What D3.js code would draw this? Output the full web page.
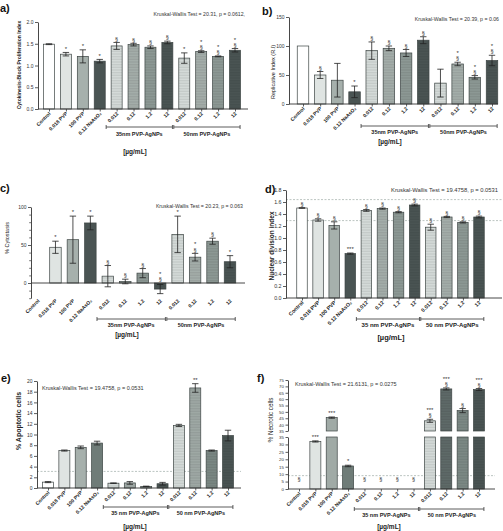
<!DOCTYPE html>
<html><head><meta charset="utf-8">
<script src="https://cdn.jsdelivr.net/npm/d3@7"></script>
<style>body{margin:0;background:#fff}svg{display:block;font-family:"Liberation Sans",Arial,sans-serif}</style>
</head><body><svg id="c" width="503" height="531"></svg>
<script>
// ---------- DATA ----------
const categories = ["Control","0.018 PVP","100 PVP","0.12 NaAsO\u2082","0.012","0.12","1.2","12","0.012","0.12","1.2","12"];
const groupsNoSpace = ["35nm PVP-AgNPs","50nm PVP-AgNPs"];
const groupsSpace = ["35 nm PVP-AgNPs","50 nm PVP-AgNPs"];
const unitLabel = "[\u00b5g/mL]";

// a) CBPI
const cbpiMean = [1.49,1.26,1.21,1.10,1.45,1.48,1.42,1.53,1.17,1.32,1.21,1.35];
const cbpiErr  = [0.01,0.04,0.15,0.04,0.08,0.03,0.03,0.03,0.12,0.02,0.01,0.04];
const cbpiMarks = [[],["*"],["*"],["*"],["§"],["§"],["§"],["§"],["*"],["§","*"],["§","*"],["§","*"]];
const cbpiTicks = [0,0.5,1,1.5,2];

// b) Replicative index
const riMean = [100,50,41,21,92,96,88,110,36,69,46,75];
const riErr  = [0,6,29,10,15,4,6,6,24,3,3,9];
const riMarks = [[],["§"],[],["*"],["§"],["§"],["§"],["§"],[],["§","*"],["§","*"],["§","*"]];
const riTicks = [0,50,100,150];

// c) % Cytostasis
const cytoMean = [0,47,57,79,9,2,13,-8,64,34,55,28];
const cytoErr  = [0,8,31,9,14,3,6,6,24,5,4,8];
const cytoMarks = [[],["*"],["*"],["*"],["§"],["§"],["§"],["§","*"],["*"],["§","*"],["§"],["*"]];
const cytoTicks = [0,50,100];
const cytoMinor = [-20,-10,10,20,30,40,60,70,80,90];

// d) Nuclear division index
const ndiMean = [1.50,1.30,1.21,0.74,1.46,1.49,1.43,1.55,1.18,1.35,1.26,1.35];
const ndiErr  = [0.005,0.02,0.06,0.01,0.015,0.01,0.01,0.015,0.05,0.01,0.01,0.015];
const ndiMarks = [["§"],["§"],["§"],["***"],["§"],["§"],["§"],["§"],["§"],["§"],["§"],["§"]];
const ndiTicks = [0,0.2,0.4,0.6,0.8,1.0,1.2,1.4,1.6,1.8];
const ndiRefLines = [1.64,1.29];

// e) % Apoptotic cells
const apoMean = [1.1,7.0,7.6,8.4,0.9,0.95,0.3,0.8,11.7,18.7,7.0,9.8];
const apoErr  = [0.1,0.1,0.25,0.35,0.05,0.25,0.05,0.25,0.2,0.8,0.1,1.0];
const apoMarks = [[],[],[],[],[],[],[],[],[],["**"],[],[]];
const apoTicks = [0,2,4,6,8,10,12,14,16,18,20];
const apoRefLines = [3.1];

// f) % Necrotic cells
const necMean = [0,32,45.5,15.5,0,0,0,0,43,68,51,67.5];
const necErr  = [0,0.4,0.5,0.5,0,0,0,0,1.2,0.8,1.6,0.8];
const necMarks = [["§"],["***"],["***"],["*"],["§"],["§"],["§"],["§"],["§","***"],["§","***"],["§"],["§","***"]];
const necTicksLow = [0,5,10,15,20,25,30,35];
const necTicksHigh = [35,40,45,50,55,60,65,70,75];
const necRefLines = [9];

// ---------- STYLE ----------
const baseColors = ["#ffffff","#dfe4e2","#a6b0ac","#4a5453","#d6dcda","#a5afab","#8e9a96","#4b5554","#d6dcda","#a5afab","#8e9a96","#4b5554"];
const colorsE = ["#ffffff","#dfe4e2","#a6b0ac","#6f7c78","#d6dcda","#a5afab","#8e9a96","#4b5554","#d6dcda","#a0aaa6","#7b8884","#4b5554"];
const colorsF = ["#ffffff","#dfe4e2","#a0aaa6","#6f7c78","#d6dcda","#a5afab","#8e9a96","#4b5554","#d6dcda","#5f6b69","#7d8a86","#4b5554"];
const striped = [false,false,false,false,true,true,true,true,true,true,true,true];

const svg = d3.select("#c");
const defs = svg.append("defs");
const patCache = {};
function fillFor(color, stripe){
  if(!stripe) return color;
  const id = "p"+color.slice(1);
  if(!patCache[id]){
    const p = defs.append("pattern").attr("id",id).attr("patternUnits","userSpaceOnUse").attr("width",4).attr("height",1.6);
    p.append("rect").attr("width",4).attr("height",1.6).attr("fill",color);
    p.append("rect").attr("width",4).attr("height",0.6).attr("fill",d3.color(color).darker(0.35));
    patCache[id]=true;
  }
  return "url(#"+id+")";
}

function drawPanel(p){
  const g = svg.append("g");
  const n = categories.length;
  const x = d3.scalePoint().domain(d3.range(n)).range([p.c0,p.c1]);
  const step = x.step();
  let yv, y0;
  let yLow, yHigh;
  if(p.broken){
    yLow = d3.scaleLinear().domain(p.broken.lowDom).range(p.broken.lowRange);
    yHigh = d3.scaleLinear().domain(p.broken.highDom).range(p.broken.highRange);
    yv = v => v <= p.broken.lowDom[1] ? yLow(v) : yHigh(v);
    y0 = yLow(0);
  } else {
    const y = d3.scaleLinear().domain(p.domain).range(p.range);
    yv = y;
    y0 = y(0);
  }
  const axisBottomY = p.broken ? yLow(p.broken.lowDom[0]) : p.range[0];

  (p.refLines||[]).forEach(v=>{
    g.append("line").attr("x1",p.ax).attr("x2",p.xEnd).attr("y1",yv(v)).attr("y2",yv(v))
      .attr("stroke","#a9b5b1").attr("stroke-width",0.8).attr("stroke-dasharray","2,1.5");
  });

  p.mean.forEach((v,i)=>{
    const cx = x(i);
    const fill = fillFor(p.colors[i], striped[i]);
    if(p.broken){
      const cut = p.broken.lowDom[1];
      if(v>0){
        const top = yLow(Math.min(v,cut));
        g.append("rect").attr("x",cx-p.bw/2).attr("y",top).attr("width",p.bw).attr("height",y0-top)
          .attr("fill",fill).attr("stroke","#3d4544").attr("stroke-width",0.7);
        if(v>cut){
          const t2 = yHigh(v), b2 = yHigh(cut);
          g.append("rect").attr("x",cx-p.bw/2).attr("y",t2).attr("width",p.bw).attr("height",b2-t2)
            .attr("fill",fill).attr("stroke","#3d4544").attr("stroke-width",0.7);
        }
      }
    } else if(v!==0){
      const top = Math.min(yv(v),y0), h = Math.abs(yv(v)-y0);
      g.append("rect").attr("x",cx-p.bw/2).attr("y",top).attr("width",p.bw).attr("height",h)
        .attr("fill",fill).attr("stroke","#3d4544").attr("stroke-width",0.7);
    }
    const e = p.err[i];
    if(e>0){
      const a = yv(v+e), b = yv(v-e);
      g.append("line").attr("x1",cx).attr("x2",cx).attr("y1",a).attr("y2",b).attr("stroke","#222").attr("stroke-width",0.8);
      [a,b].forEach(yy=>g.append("line").attr("x1",cx-3.2).attr("x2",cx+3.2).attr("y1",yy).attr("y2",yy).attr("stroke","#222").attr("stroke-width",0.8));
    }
    const base = yv(Math.max(v+e, p.markMin||0)) - 1.8;
    p.marks[i].forEach((m,k)=>{
      g.append("text").attr("x",cx).attr("y",base - k*5.2).attr("text-anchor","middle")
        .attr("font-size", m.startsWith("*")?6:5.5).attr("fill","#333").text(m);
    });
  });

  if(p.zeroLine){
    g.append("line").attr("x1",p.ax).attr("x2",p.xEnd).attr("y1",y0).attr("y2",y0).attr("stroke","#333").attr("stroke-width",0.9);
  }

  function styleAxis(sel){
    sel.selectAll("text").attr("font-size",p.tickSize||5).attr("fill","#333");
    sel.selectAll("line").attr("stroke","#333").attr("stroke-width",0.8);
    sel.select(".domain").attr("stroke","#333").attr("stroke-width",0.9);
  }
  if(p.broken){
    const a1 = d3.axisLeft(yLow).tickValues(necTicksLow).tickSize(2.5).tickSizeOuter(0).tickPadding(1.5).tickFormat(d3.format("d"));
    const a2 = d3.axisLeft(yHigh).tickValues(necTicksHigh).tickSize(2.5).tickSizeOuter(0).tickPadding(1.5).tickFormat(d3.format("d"));
    g.append("g").attr("transform",`translate(${p.ax},0)`).call(a1).call(styleAxis);
    g.append("g").attr("transform",`translate(${p.ax},0)`).call(a2).call(styleAxis);
  } else {
    const ya = d3.axisLeft(yv).tickValues(p.ticks).tickSize(3).tickSizeOuter(0).tickPadding(1.5).tickFormat(d3.format(p.fmt));
    g.append("g").attr("transform",`translate(${p.ax},0)`).call(ya).call(styleAxis);
    if(p.minor){
      const ym = d3.axisLeft(yv).tickValues(p.minor).tickSize(1.8).tickFormat("");
      g.append("g").attr("transform",`translate(${p.ax},0)`).call(ym).call(s=>{s.select(".domain").remove();s.selectAll("line").attr("stroke","#333").attr("stroke-width",0.7);});
    }
  }

  if(!p.noXLine){
    g.append("line").attr("x1",p.ax).attr("x2",p.xEnd).attr("y1",axisBottomY).attr("y2",axisBottomY).attr("stroke","#333").attr("stroke-width",0.9);
  }
  const xa = d3.axisBottom(x).tickSize(p.noXLine?0:2.5).tickFormat(i=>categories[i]);
  const xg = g.append("g").attr("transform",`translate(0,${axisBottomY})`).call(xa);
  xg.select(".domain").remove();
  xg.selectAll("line").attr("stroke","#333").attr("stroke-width",0.8);
  xg.selectAll("text").attr("font-size",p.xLabelSize||5).attr("fill","#222").attr("font-weight","bold")
    .attr("text-anchor","end").attr("dy",null).attr("y",null)
    .attr("transform",`translate(1.5,${p.xLabelOff||5}) rotate(-45)`);

  [[4,7],[8,11]].forEach((r,gi)=>{
    const L = x(r[0]) - 0.62*step, R = x(r[1]) + 0.3*step;
    g.append("line").attr("x1",L).attr("x2",R).attr("y1",p.bracketY).attr("y2",p.bracketY).attr("stroke","#333").attr("stroke-width",0.8);
    [L,R].forEach(xx=>g.append("line").attr("x1",xx).attr("x2",xx).attr("y1",p.bracketY-2).attr("y2",p.bracketY+2).attr("stroke","#333").attr("stroke-width",0.8));
    g.append("text").attr("x",(L+R)/2).attr("y",p.groupY).attr("text-anchor","middle")
      .attr("font-size",p.groupSize||5.5).attr("font-weight","bold").attr("fill","#222").text(p.groups[gi]);
  });
  g.append("text").attr("x",p.unitX).attr("y",p.unitY).attr("text-anchor","middle")
    .attr("font-size",p.unitSize||7).attr("font-weight","bold").attr("fill","#1a1a1a").text(unitLabel);

  g.append("text").attr("x",p.kw.x).attr("y",p.kw.y).attr("text-anchor",p.kw.anchor)
    .attr("font-size",p.kw.size||5.2).attr("fill","#333").text(p.kw.text);

  g.append("text").attr("transform",`translate(${p.title.x},${p.title.cy}) rotate(-90)`).attr("text-anchor","middle")
    .attr("font-size",p.title.size).attr("font-weight",p.title.bold?"bold":"normal").attr("fill","#222").text(p.title.text);

  g.append("text").attr("x",p.label.x).attr("y",p.label.y).attr("font-size",11).attr("font-weight","bold").attr("fill","#111").text(p.label.text);
}

drawPanel({mean:cbpiMean,err:cbpiErr,marks:cbpiMarks,ticks:cbpiTicks,fmt:".1f",colors:baseColors,
  ax:38,xEnd:248,domain:[0,2],range:[109,22],c0:49,c1:235,bw:11,
  bracketY:127,groupY:135.5,groups:groupsNoSpace,unitX:135,unitY:154,unitSize:6.5,
  kw:{text:"Kruskal-Wallis Test = 20.31, p = 0.0612,",x:245,y:16,anchor:"end"},
  title:{text:"Cytokinesis-Block Proliferation Index",x:21,cy:65,size:5,bold:true},
  label:{text:"a)",x:0,y:12}});

drawPanel({mean:riMean,err:riErr,marks:riMarks,ticks:riTicks,fmt:"d",colors:baseColors,
  ax:289,xEnd:498,domain:[0,150],range:[104,17],c0:303,c1:492,bw:11.5,
  bracketY:126,groupY:133.5,groups:groupsNoSpace,unitX:390,unitY:144,unitSize:6.5,
  kw:{text:"Kruskal-Wallis Test = 20.39, p = 0.06",x:499,y:21,anchor:"end"},
  title:{text:"Replicative  Index (R.I)",x:275,cy:72,size:5.5,bold:false},
  label:{text:"b)",x:262,y:15}});

drawPanel({mean:cytoMean,err:cytoErr,marks:cytoMarks,ticks:cytoTicks,minor:cytoMinor,fmt:"d",colors:baseColors,
  ax:31,xEnd:245,domain:[-20,100],range:[298.2,207],c0:38,c1:230,bw:11.5,zeroLine:true,noXLine:true,
  bracketY:319,groupY:326.5,groups:groupsNoSpace,unitX:127,unitY:337,unitSize:6.5,xLabelOff:3,
  kw:{text:"Kruskal-Wallis Test = 20.23, p = 0.063",x:243,y:208,anchor:"end"},
  title:{text:"% Cytostasis",x:9,cy:238,size:5.5,bold:false},
  label:{text:"c)",x:0,y:192}});

drawPanel({mean:ndiMean,err:ndiErr,marks:ndiMarks,ticks:ndiTicks,fmt:".1f",colors:baseColors,refLines:ndiRefLines,
  ax:286,xEnd:502,domain:[0,1.8],range:[298,190],c0:302,c1:479,bw:10.5,tickSize:5.3,xLabelSize:5.3,
  bracketY:319,groupY:327,groups:groupsSpace,groupSize:6,unitX:391,unitY:340,unitSize:7.5,
  kw:{text:"Kruskal-Wallis Test = 19.4758, p = 0.0531",x:498,y:192,anchor:"end",size:5.8},
  title:{text:"Nuclear division index",x:274,cy:246,size:6.5,bold:true},
  label:{text:"d)",x:265,y:193}});

drawPanel({mean:apoMean,err:apoErr,marks:apoMarks,ticks:apoTicks,fmt:"d",colors:colorsE,refLines:apoRefLines,
  ax:37,xEnd:241,domain:[0,20],range:[488,381],c0:48,c1:228,bw:11,
  bracketY:507,groupY:515,groups:groupsSpace,groupSize:5.5,unitX:135,unitY:529,unitSize:6.5,
  kw:{text:"Kruskal-Wallis Test = 19.4758, p = 0.0531",x:42,y:389.5,anchor:"start",size:5.5},
  title:{text:"% Apoptotic cells",x:21,cy:421,size:7,bold:true},
  label:{text:"e)",x:1,y:382}});

drawPanel({mean:necMean,err:necErr,marks:necMarks,colors:colorsF,refLines:necRefLines,markMin:4,tickSize:4.4,
  broken:{lowDom:[0,35],lowRange:[489,437],highDom:[35,75],highRange:[431,380]},
  ax:288,xEnd:495,c0:299,c1:479,bw:11,
  bracketY:509,groupY:517,groups:groupsSpace,groupSize:5.5,unitX:389,unitY:529,unitSize:6.5,
  kw:{text:"Kruskal-Wallis Test = 21.6131, p = 0.0275",x:295,y:386,anchor:"start",size:5.5},
  title:{text:"% Necrotic cells",x:273,cy:420,size:6.3,bold:false},
  label:{text:"f)",x:257,y:382}});
</script></body></html>
